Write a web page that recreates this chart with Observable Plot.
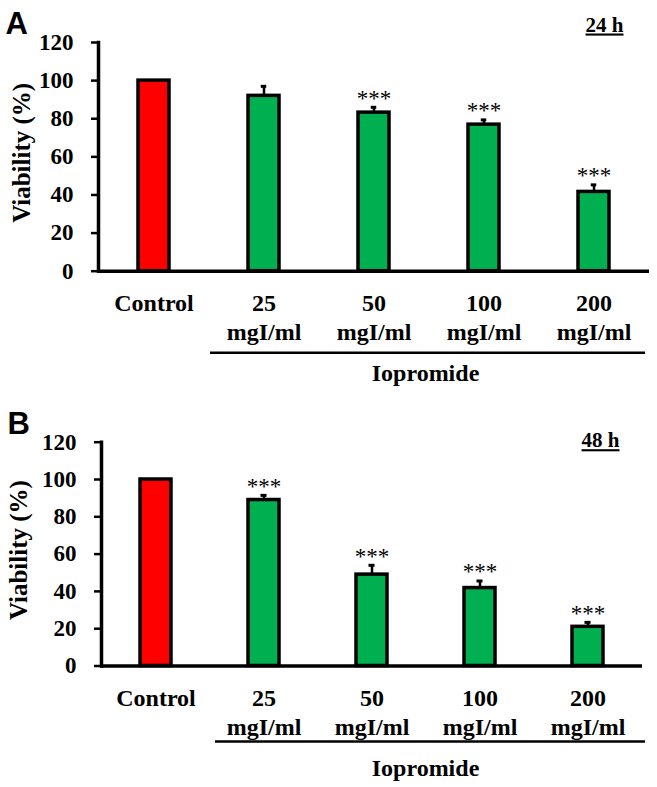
<!DOCTYPE html>
<html>
<head>
<meta charset="utf-8">
<script src="https://cdn.jsdelivr.net/npm/d3@7"></script>
<script src="https://cdn.jsdelivr.net/npm/@observablehq/plot@0.6"></script>
<style>
  html, body { margin: 0; padding: 0; background: #fff; }
  #chart svg { display: block; }
</style>
</head>
<body>
<div id="chart"></div>
<script>
// ---- data ----
const categories = ["Control", "25 mgI/ml", "50 mgI/ml", "100 mgI/ml", "200 mgI/ml"];
const viability24 = [100, 92, 83.2, 76.9, 41.6];
const error24 = [0, 5, 2.8, 2.5, 3.7];
const signif24 = ["", "", "***", "***", "***"];
const viability48 = [100, 89, 49, 41.8, 21];
const error48 = [0, 2.5, 5, 3.8, 2.4];
const signif48 = ["", "***", "***", "***", "***"];
const yTicks = [0, 20, 40, 60, 80, 100, 120];
const yLabel = "Viability (%)";
const groupLabel = "Iopromide";
const groupStart = "25 mgI/ml";
const groupEnd = "200 mgI/ml";
const controlColor = "#ff0000";
const treatColor = "#00b050";

const W = 657;
const SERIF = "'Liberation Serif', 'Times New Roman', serif";

function panel(o) {
  const rows = categories.map((c, i) => ({cat: c, v: o.values[i], e: o.errors[i], s: o.signif[i]}));
  const errRows = rows.filter(d => d.e > 0);
  const starRows = rows.filter(d => d.s);
  const bw = d3.scaleBand(categories, [o.ml, W - o.mr]).paddingInner(0.714).paddingOuter(0.357).bandwidth();
  const capInset = (bw - 6) / 2;
  const svg = Plot.plot({
    width: W,
    height: o.height,
    marginTop: o.mt,
    marginBottom: o.mb,
    marginLeft: o.ml,
    marginRight: o.mr,
    style: {fontFamily: SERIF, fontWeight: "bold", color: "black", background: "white"},
    x: {domain: categories, paddingInner: 0.714, paddingOuter: 0.357, axis: null},
    y: {domain: [0, 120], axis: null},
    marks: [
      Plot.barY(rows, {x: "cat", y: "v", fill: d => d.cat === "Control" ? controlColor : treatColor, stroke: "black", strokeWidth: 3.5}),
      Plot.ruleX(errRows, {x: "cat", y1: "v", y2: d => d.v + d.e, stroke: "black", strokeWidth: 2.5}),
      Plot.tickY(errRows, {x: "cat", y: d => d.v + d.e, stroke: "black", strokeWidth: 3, insetLeft: capInset, insetRight: capInset}),
      Plot.text(starRows, {x: "cat", y: d => d.v + d.e, text: "s", lineAnchor: "bottom", dy: -1.5, fontSize: 23, fontWeight: "normal", fill: "black"}),
      Plot.frame({anchor: "left", stroke: "black", strokeWidth: 3.5}),
      Plot.ruleY([0], {stroke: "black", strokeWidth: 3.5}),
      Plot.axisY({ticks: yTicks, tickSize: 7, tickFormat: () => "", label: null, strokeWidth: 2.5}),
      Plot.text(yTicks, {y: d => d, text: d => String(d), frameAnchor: "left", textAnchor: "end", dx: -25, fontSize: 23, fill: "black"}),
      Plot.axisX({tickSize: 0, tickPadding: 19, fontSize: 24, lineHeight: 1.22, label: null, tickFormat: d => d.replace(" ", "\n")}),
      Plot.ruleY([{y: 0, from: groupStart, to: groupEnd}], {y: "y", x1: "from", x2: "to", dy: o.bracketDy, insetLeft: o.bracketL, insetRight: o.bracketR, stroke: "black", strokeWidth: 2.5}),
      Plot.text([groupLabel], {frameAnchor: "bottom", text: d => d, lineAnchor: "bottom", dx: o.groupDx, dy: o.groupDy, fontSize: 24}),
      Plot.text([yLabel], {frameAnchor: "left", text: d => d, rotate: -90, textAnchor: "middle", lineAnchor: "bottom", dx: o.labelDx, dy: -4, fontSize: 25}),
      Plot.text([o.time], {frameAnchor: "top-right", text: d => d, textAnchor: "end", lineAnchor: "bottom", dx: o.timeDx, dy: o.timeDy, fontSize: 21}),
      Plot.text([o.letter], {frameAnchor: "top-left", text: d => d, textAnchor: "start", lineAnchor: "bottom", dx: o.letterDx, dy: o.letterDy, fontSize: 31, fontFamily: "'Liberation Sans', Arial, sans-serif", fontWeight: "bold"})
    ]
  });
  svg.querySelectorAll("text").forEach(t => {
    if (t.textContent === o.time) t.style.textDecoration = "underline";
  });
  return svg;
}

const chart = document.getElementById("chart");
chart.appendChild(panel({
  values: viability24, errors: error24, signif: signif24, time: "24 h", letter: "A",
  height: 393, mt: 42, mb: 122.3, ml: 98, mr: 8,
  bracketDy: 81.5, bracketL: -38, bracketR: -36,
  groupDx: 51.5, groupDy: 109.3, labelDx: -69,
  timeDx: -26, timeDy: -11, letterDx: -93, letterDy: -9
}));
chart.appendChild(panel({
  values: viability48, errors: error48, signif: signif48, time: "48 h", letter: "B",
  height: 394, mt: 48.7, mb: 121.5, ml: 101, mr: 15,
  bracketDy: 75.5, bracketL: -33, bracketR: -42,
  groupDx: 53.5, groupDy: 109.5, labelDx: -75,
  timeDx: -23, timeDy: 5, letterDx: -94, letterDy: -8.7
}));
</script>
</body>
</html>
